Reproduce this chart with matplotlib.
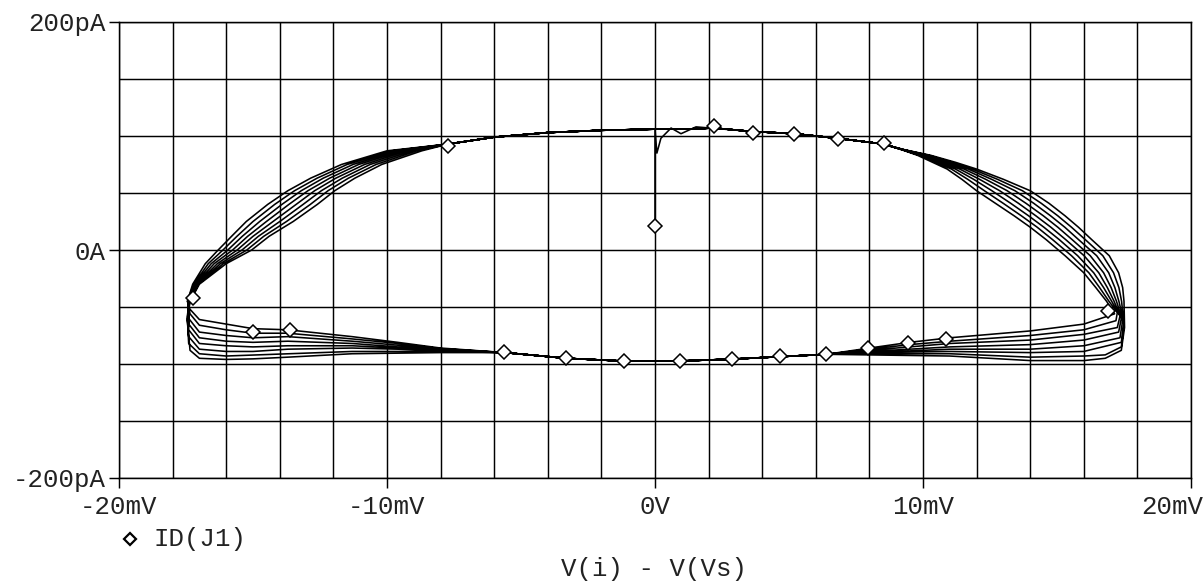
import matplotlib.pyplot as plt
from matplotlib.lines import Line2D
from matplotlib.transforms import ScaledTranslation

# trace data (x in mV, y in pA)

# first rise from the operating point onto the top arc
START_X = [0.0, 0.0, 0.07, 0.22, 0.6, 0.97, 1.53]
START_Y = [21, 106, 85, 98, 107, 102, 108]

# top arc, shared by all cycles
TOP_X = [-7.7, -6.0, -4.0, -2.0, 0.0, 1.0, 2.2, 3.6, 5.2, 6.8, 8.5]
TOP_Y = [93, 99, 103, 105, 106, 106, 107, 104, 102, 98, 93]

# bottom arc centre, shared by all cycles
BOT_X = [6.4, 4.7, 2.9, 0.9, -1.2, -3.3, -5.6]
BOT_Y = [-91.5, -93.5, -95.7, -97.4, -97.4, -95.0, -90.0]

# falling edge on the right: x of each cycle at these currents
UR_Y = [88, 83, 77, 71, 62, 52, 41, 30, 20, 9, -5, -20, -33, -45]
UR_X = [
    [9.2, 9.8, 10.35, 10.9, 11.45, 12.0, 12.7, 13.4, 14.0, 14.6, 15.3, 16.0, 16.45, 16.85],
    [9.21, 9.87, 10.47, 11.06, 11.67, 12.29, 12.99, 13.67, 14.26, 14.84, 15.54, 16.19, 16.59, 16.94],
    [9.23, 9.94, 10.59, 11.21, 11.89, 12.57, 13.27, 13.94, 14.51, 15.09, 15.77, 16.37, 16.74, 17.04],
    [9.24, 10.01, 10.71, 11.37, 12.11, 12.86, 13.56, 14.21, 14.77, 15.33, 16.01, 16.56, 16.88, 17.13],
    [9.26, 10.09, 10.84, 11.53, 12.34, 13.14, 13.84, 14.49, 15.03, 15.57, 16.24, 16.74, 17.02, 17.22],
    [9.27, 10.16, 10.96, 11.69, 12.56, 13.43, 14.13, 14.76, 15.29, 15.81, 16.48, 16.93, 17.16, 17.31],
    [9.29, 10.23, 11.08, 11.84, 12.78, 13.71, 14.41, 15.03, 15.54, 16.06, 16.71, 17.11, 17.31, 17.41],
    [9.3, 10.3, 11.2, 12.0, 13.0, 14.0, 14.7, 15.3, 15.8, 16.3, 16.95, 17.3, 17.45, 17.5],
]

# turn at the right end of each cycle
RT_X = [
    [17.15],
    [17.25, 17.2],
    [17.35, 17.25],
    [17.4, 17.3],
    [17.45, 17.35],
    [17.5, 17.4],
    [17.5, 17.4, 16.8],
    [17.52, 17.4, 16.8],
]
RT_Y = [
    [-56],
    [-55, -62],
    [-58, -68],
    [-60, -72],
    [-62, -77],
    [-64, -81],
    [-66, -85, -92],
    [-68, -88, -95],
]

# right part of the bottom branch: current of each cycle at these voltages
BR_X = [16.0, 14.0, 12.5, 11.0, 9.5, 8.0]
BR_Y = [
    [-65, -71, -74, -77, -81, -86],
    [-70, -75, -77.5, -80, -83, -87],
    [-74, -79, -80.5, -82, -85, -88],
    [-79, -83, -84, -85, -87, -89],
    [-84, -87, -87, -87, -88.5, -90],
    [-89, -90, -89.5, -89, -89.5, -90],
    [-93, -94, -92.5, -91, -91, -91],
    [-97, -97, -95, -93, -92.5, -92],
]

# left part of the bottom branch
BL_X = [-8.0, -9.6, -11.3, -12.5, -13.7, -15.0, -16.0, -17.0]
BL_Y = [
    [-86, -81, -76, -73, -70, -69, -65, -61],
    [-86.5, -82, -78, -75.5, -73, -73, -70, -66],
    [-87, -83.5, -80, -78, -76, -77, -75, -72],
    [-87.5, -85, -82, -81, -80, -81, -80, -77],
    [-88, -86, -84, -84, -84, -85, -84, -82],
    [-88.5, -87, -86, -86.5, -87, -89, -89, -87],
    [-89, -89, -89, -90, -91, -92, -93, -91],
    [-90, -90.5, -91, -92.5, -94, -95.5, -96, -95],
]

# turn at the left end of each cycle
LT_X = [
    [-17.35],
    [-17.35],
    [-17.4],
    [-17.4],
    [-17.4],
    [-17.4, -17.45],
    [-17.4, -17.45],
    [-17.35, -17.45],
]
LT_Y = [
    [-52],
    [-56],
    [-60],
    [-65],
    [-70],
    [-76, -58],
    [-82, -60],
    [-88, -62],
]

# rising edge on the left: x of each cycle at these currents
UL_Y = [-45, -30, -12, 0, 12, 25, 40, 52, 63, 75, 87]
UL_X = [
    [-17.45, -17.25, -16.78, -16.3, -15.8, -15.25, -14.45, -13.7, -12.85, -11.7, -10.0],
    [-17.44, -17.21, -16.67, -16.12, -15.6, -15.0, -14.19, -13.45, -12.61, -11.49, -9.81],
    [-17.42, -17.18, -16.56, -15.94, -15.4, -14.75, -13.92, -13.2, -12.38, -11.27, -9.63],
    [-17.41, -17.14, -16.45, -15.76, -15.2, -14.5, -13.66, -12.95, -12.14, -11.06, -9.44],
    [-17.39, -17.11, -16.33, -15.59, -15.0, -14.25, -13.39, -12.7, -11.91, -10.84, -9.26],
    [-17.38, -17.07, -16.22, -15.41, -14.8, -14.0, -13.13, -12.45, -11.67, -10.63, -9.07],
    [-17.36, -17.04, -16.11, -15.23, -14.6, -13.75, -12.86, -12.2, -11.44, -10.41, -8.89],
    [-17.35, -17.0, -16.0, -15.05, -14.4, -13.5, -12.6, -11.95, -11.2, -10.2, -8.7],
]

# diamond markers along the trace
MARK_X = [0.0, 2.2, 3.66, 5.19, 6.83, 8.54, 16.9, 10.86, 9.44, 7.95, 6.38, 4.66,
          2.87, 0.93, -1.16, -3.32, -5.63, -13.62, -15.0, -17.24, -7.72]
MARK_Y = [20.9, 108.7, 102.6, 101.7, 97.4, 93.9, -53.9, -78.3, -81.7, -86.1, -91.3, -93.0,
          -95.7, -97.4, -97.4, -94.8, -89.6, -70.4, -72.2, -41.7, 91.3]

X_TICKS = [-20, -10, 0, 10, 20]
X_LABELS = ["-20mV", "-10mV", "0V", "10mV", "20mV"]
Y_TICKS = [-200, 0, 200]
Y_LABELS = ["-200pA", "0A", "200pA"]

FONT = "Liberation Mono"
TXT = "#222222"

# join the pieces into one continuous trace
xs = list(START_X) + TOP_X[7:]
ys = list(START_Y) + TOP_Y[7:]
for k in range(len(UR_X)):
    xs += UR_X[k] + RT_X[k] + BR_X + BOT_X + BL_X + LT_X[k] + UL_X[k] + TOP_X
    ys += UR_Y + RT_Y[k] + BR_Y[k] + BOT_Y + BL_Y[k] + LT_Y[k] + UL_Y + TOP_Y

fig = plt.figure(figsize=(12.04, 5.81), dpi=100)
ax = fig.add_axes([119 / 1204, 1 - 478 / 581, 1072 / 1204, 456 / 581])

ax.plot(xs, ys, color="black", lw=1.15, zorder=3)
ax.plot(MARK_X, MARK_Y, ls="none", marker="D", ms=7.2, mfc="white",
        mec="black", mew=1.1, zorder=4)

ax.set_xlim(-20, 20)
ax.set_ylim(-200, 200)
ax.set_xticks(X_TICKS)
ax.set_xticklabels(X_LABELS)
ax.set_yticks(Y_TICKS)
ax.set_yticklabels(Y_LABELS)
ax.set_xticks([v for v in range(-20, 21, 2)], minor=True)
ax.set_yticks([v for v in range(-200, 201, 50)], minor=True)
ax.grid(True, which="both", color="black", lw=1.05, zorder=1)
ax.set_axisbelow(True)
ax.tick_params(which="major", length=7.5, width=1.05, color="black",
               labelsize=18.5, labelcolor=TXT)
ax.tick_params(axis="x", which="major", pad=5)
ax.tick_params(axis="y", which="major", pad=2)
ax.tick_params(which="minor", length=0)
for lab in ax.get_xticklabels() + ax.get_yticklabels():
    lab.set_fontfamily(FONT)
# PSpice pulls the last x label back inside the window
last = ax.get_xticklabels()[-1]
last.set_transform(last.get_transform() + ScaledTranslation(-0.19, 0, fig.dpi_scale_trans))
for sp in ax.spines.values():
    sp.set_linewidth(1.05)
    sp.set_color("black")

# legend entry and axis title, placed like the PSpice probe window
fig.add_artist(Line2D([130 / 1204], [1 - 539 / 581], marker="D", ms=6.5,
                      mfc="white", mec="black", mew=1.6, ls="none"))
fig.text(153 / 1204, 1 - 539 / 581, "ID(J1)", family=FONT, fontsize=18.5,
         color=TXT, va="center", ha="left")
fig.text(654 / 1204, 1 - 569 / 581, "V(i) - V(Vs)", family=FONT, fontsize=18.5,
         color=TXT, va="center", ha="center")

fig.savefig("out.png", dpi=100, facecolor="white")
